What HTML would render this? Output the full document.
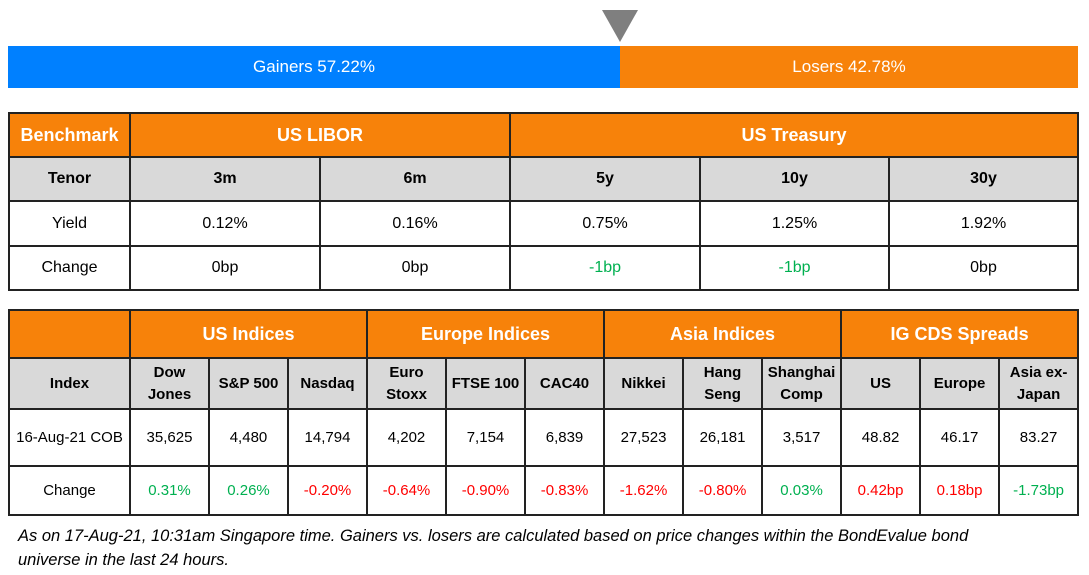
<!DOCTYPE html>
<html><head><meta charset="utf-8"><style>
body{margin:0;width:1089px;height:575px;background:#fff;position:relative;font-family:"Liberation Sans",sans-serif;overflow:hidden}
.bar{position:absolute;top:46px;height:42px;color:#fff;font-size:17px;line-height:42px;text-align:center}
table{position:absolute;left:8px;border-collapse:collapse;table-layout:fixed;font-size:16px}
td{border:2px solid #222;text-align:center;padding:0;color:#000}
.h td{background:#f7820a;color:#fff;font-weight:bold;font-size:18px}
.s td{background:#d9d9d9;font-weight:bold}
.g{color:#00b050!important}.r{color:#ff0000!important}
.foot{position:absolute;left:18px;top:524px;width:1020px;font-style:italic;font-size:16.5px;line-height:24px;color:#000}
</style></head><body>
<svg style="position:absolute;left:600px;top:10px" width="40" height="32"><polygon points="2,0 38,0 20,32" fill="#7f7f7f"/></svg>
<div class="bar" style="left:8px;width:612px;background:#0080ff">Gainers 57.22%</div>
<div class="bar" style="left:620px;width:458px;background:#f7820a">Losers 42.78%</div>

<table style="top:112px;width:1069px">
<colgroup><col style="width:121px"><col style="width:190px"><col style="width:190px"><col style="width:190px"><col style="width:189px"><col style="width:189px"></colgroup>
<tr class="h" style="height:44px"><td>Benchmark</td><td colspan="2">US LIBOR</td><td colspan="3">US Treasury</td></tr>
<tr class="s" style="height:44px"><td>Tenor</td><td>3m</td><td>6m</td><td>5y</td><td>10y</td><td>30y</td></tr>
<tr style="height:45px"><td>Yield</td><td>0.12%</td><td>0.16%</td><td>0.75%</td><td>1.25%</td><td>1.92%</td></tr>
<tr style="height:44px"><td>Change</td><td>0bp</td><td>0bp</td><td class="g">-1bp</td><td class="g">-1bp</td><td>0bp</td></tr>
</table>

<table style="top:309px;width:1069px">
<colgroup><col style="width:121px"><col span="12" style="width:79px"></colgroup>
<tr class="h" style="height:48px"><td></td><td colspan="3">US Indices</td><td colspan="3">Europe Indices</td><td colspan="3">Asia Indices</td><td colspan="3">IG CDS Spreads</td></tr>
<tr class="s" style="height:51px;font-size:15px;line-height:22px"><td>Index</td><td>Dow<br>Jones</td><td>S&amp;P 500</td><td>Nasdaq</td><td>Euro<br>Stoxx</td><td>FTSE 100</td><td>CAC40</td><td>Nikkei</td><td>Hang<br>Seng</td><td>Shanghai<br>Comp</td><td>US</td><td>Europe</td><td>Asia ex-<br>Japan</td></tr>
<tr style="height:57px;font-size:15px"><td>16-Aug-21 COB</td><td>35,625</td><td>4,480</td><td>14,794</td><td>4,202</td><td>7,154</td><td>6,839</td><td>27,523</td><td>26,181</td><td>3,517</td><td>48.82</td><td>46.17</td><td>83.27</td></tr>
<tr style="height:49px;font-size:15px"><td>Change</td><td class="g">0.31%</td><td class="g">0.26%</td><td class="r">-0.20%</td><td class="r">-0.64%</td><td class="r">-0.90%</td><td class="r">-0.83%</td><td class="r">-1.62%</td><td class="r">-0.80%</td><td class="g">0.03%</td><td class="r">0.42bp</td><td class="r">0.18bp</td><td class="g">-1.73bp</td></tr>
</table>

<div class="foot">As on 17-Aug-21, 10:31am Singapore time. Gainers vs. losers are calculated based on price changes within the BondEvalue bond<br>universe in the last 24 hours.</div>
</body></html>
